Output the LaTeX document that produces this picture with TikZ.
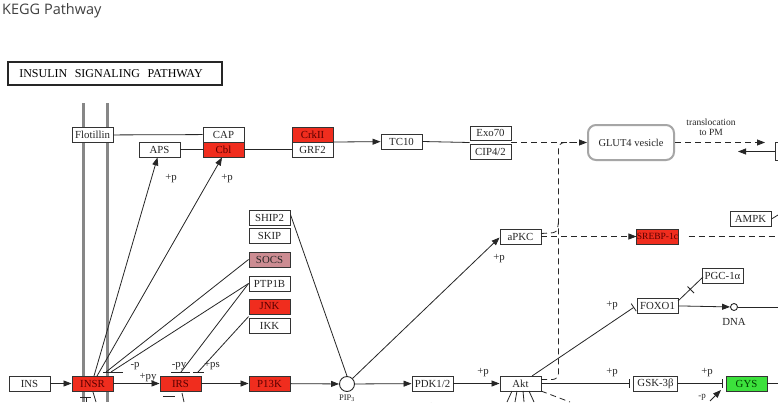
\documentclass[tikz,border=0pt]{standalone}
\usepackage{fontspec}
\setmainfont{Liberation Serif}
\newfontfamily\headfont{Open Sans}
\usetikzlibrary{arrows.meta}
\definecolor{keggred}{RGB}{240,45,30}
\definecolor{keggrose}{RGB}{204,140,146}
\definecolor{kegggreen}{RGB}{60,225,60}
\definecolor{membrane}{RGB}{135,135,135}
\pgfdeclarelayer{bg}
\pgfsetlayers{bg,main}
\begin{document}
\begin{tikzpicture}[x=1pt,y=-1pt,
  gene/.style={draw=black!80, line width=0.9pt, fill=white, minimum width=41pt, minimum height=15pt, inner sep=0pt, font=\fontsize{10.8}{11}\selectfont, text=black!85},
  redgene/.style={gene, fill=keggred, text=red!35!black},
  link/.style={line width=0.8pt, draw=black!85},
  act/.style={link, -{Triangle[length=8pt,width=6pt]}},
  inh/.style={link, -{Bar[width=9pt]}, shorten >=3pt},
  dlink/.style={link, dash pattern=on 6pt off 4pt},
  dact/.style={dlink, -{Triangle[length=8pt,width=6pt]}},
  lbl/.style={font=\fontsize{10.8}{11}\selectfont, inner sep=0pt, text=black!85},
  memb/.style={line width=3pt, draw=membrane}
]
\useasboundingbox[fill=white] (0,0) rectangle (778,402);

% header
\node[anchor=base west, font=\headfont\fontsize{14.5}{15}\selectfont, text=black!75, inner sep=0pt] (head) at (2,14) {KEGG Pathway};
\node[draw=black!85, line width=1.4pt, minimum width=214pt, minimum height=23pt, inner sep=0pt, font=\fontsize{12}{13}\selectfont] (title) at (115,73.5) {INSULIN\hspace{7.5pt}SIGNALING\hspace{7.5pt}PATHWAY\hspace*{8pt}};

% membrane
\draw[memb] (83,103) -- (83,402);
\draw[memb] (107,103) -- (107,402);

% nodes
\node[gene] (flot) at (92.5,135) {Flotillin};
\node[gene] (cap) at (223.5,134.5) {CAP};
\node[redgene] (cbl) at (223.5,149.5) {Cbl};
\node[gene] (aps) at (159.5,149.5) {APS};
\node[redgene] (crk) at (312.5,134.5) {CrkII};
\node[gene] (grf) at (312.5,149.5) {GRF2};
\node[gene] (tc) at (401.5,141.5) {TC10};
\node[gene, minimum height=14pt] (exo) at (490.5,133) {Exo70};
\node[gene] (cip) at (490.5,151.5) {CIP4/2};
\node[draw=black!35, line width=2pt, rounded corners=8pt, minimum width=86pt, minimum height=35pt, inner sep=0pt, font=\fontsize{10.5}{11}\selectfont, text=black!85] (glut) at (631,142.5) {GLUT4 vesicle};
\node[gene, minimum width=18pt, minimum height=18pt] (rbox) at (784,151) {};
\node[gene] (apkc) at (520.5,236.5) {aPKC};
\node[redgene, font=\fontsize{9.5}{10}\selectfont] (srebp) at (657.5,236.5) {SREBP-1c};
\node[gene] (ampk) at (750.5,219) {AMPK};
\node[gene] (ship) at (269.5,217.5) {SHIP2};
\node[gene] (skip) at (269.5,235.5) {SKIP};
\node[gene, fill=keggrose] (socs) at (269.5,259.5) {SOCS};
\node[gene] (ptp) at (269.5,283.5) {PTP1B};
\node[redgene] (jnk) at (269.5,306.5) {JNK};
\node[gene] (ikk) at (269.5,325.5) {IKK};
\node[gene] (pgc) at (722.5,275.5) {PGC-1α};
\node[gene] (foxo) at (657.5,305.5) {FOXO1};
\node[draw=black!85, line width=0.9pt, circle, minimum size=7pt, inner sep=0pt, fill=white] (dna) at (734,307) {};
\node[lbl] (dnal) at (734,322) {DNA};
\node[gene] (ins) at (29.5,383.5) {INS};
\node[redgene] (insr) at (92.5,383.5) {INSR};
\node[redgene] (irs) at (180.5,383.5) {IRS};
\node[redgene] (pik) at (269.5,383.5) {P13K};
\node[draw=black!85, line width=0.9pt, circle, minimum size=15pt, inner sep=0pt, fill=white] (pip) at (347,384) {};
\node[anchor=north, inner sep=0pt, font=\fontsize{8.5}{9}\selectfont, text=black!85] (pipl) at (347,395) {PIP\textsubscript{3}};
\node[gene] (pdk) at (432.5,383.5) {PDK1/2};
\node[gene] (akt) at (520.5,383.5) {Akt};
\node[gene, minimum width=44pt] (gsk) at (655.5,383.5) {GSK-3β};
\node[gene, fill=kegggreen, text=green!25!black] (gys) at (746.5,383.5) {GYS};

% free ends
\coordinate (exoj) at (511,142.5);
\coordinate (crkj) at (333.4,142);
\coordinate (tlend) at (765,142.5);
\coordinate (rarr) at (738,151.5);
\coordinate (vtop) at (575,142.5);
\coordinate (vbot) at (541,379.5);
\coordinate (vc1) at (558.5,379.5);
\coordinate (vc2) at (558.5,142.5);
\coordinate (ap1) at (541,233.5);
\coordinate (ap2) at (557,232.5);
\coordinate (ap3) at (558.5,222);
\coordinate (srebpr) at (778,236.5);
\coordinate (ampkr) at (778,215);
\coordinate (gysr) at (778,383.5);
\coordinate (dnar) at (778,307);
\coordinate (pdkb) at (431,402);
\coordinate (insrA) at (94,376);
\coordinate (insrB) at (97,376);
\coordinate (sA) at (106,372);
\coordinate (sB) at (111,372);
\coordinate (sC) at (181,372);
\coordinate (sD) at (198,372);
\coordinate (aktn) at (532,376);
\coordinate (foxoE) at (678,301);
\coordinate (pgcW) at (703,277);

% background line through PDK1/2
\begin{pgfonlayer}{bg}
\draw[act] (pdkb) -- ([yshift=-3pt]apkc.west);
\end{pgfonlayer}

% top row
\draw[link] (flot) -- (cap);
\draw[link] (aps) -- (cbl);
\draw[link] (cbl.east) -- (grf.west);
\draw[act] (crkj) -- (tc);
\draw[link] (tc.east) -- (exoj -| exo.west);
\draw[dact] (exoj) -- (glut.west);
\draw[dact] (glut.east) -- (tlend);
\node[lbl, align=center, font=\fontsize{9.5}{9.5}\selectfont] (tl) at (711,127) {translocation\\to PM};
\draw[act] (rbox.west |- rarr) -- (rarr);
\draw[dlink, rounded corners=6pt] (vbot) -- (vc1) -- (vc2) -- (vtop);
\draw[dlink, rounded corners=4pt] (ap1) -- (ap2) -- (ap3);

% aPKC row
\draw[dact] (apkc.east) -- (srebp.west);
\draw[dlink, shorten <=10pt] (srebp.east) -- (srebpr);
\draw[link] (ampk.east) -- (ampkr);

% INSR to APS / Cbl
\draw[act] (insrA) -- ([xshift=-2pt]aps.south);
\node[lbl] (p1) at (171,179) {+p};
\draw[act] (insrB) -- ([xshift=-1.5pt]cbl.south);
\node[lbl] (p2) at (227,179) {+p};

% inhibitors on INSR / IRS
\draw[link] (socs.west) -- (sA);
\draw[link] (ptp.west) -- (sB);
\draw[link] (ptp.west) -- (sC);
\draw[link] ([yshift=1pt]ikk.north west) -- (sD);
\draw[link] (103,372.5) -- (123,372.5);
\draw[link] (171,372.5) -- (190,372.5);
\draw[link] (193,372.5) -- (204,372.5);
\node[lbl] (m1) at (135,366) {-p};
\node[lbl] (m2) at (148,378) {+py};
\node[lbl] (m3) at (179,366) {-py};
\node[lbl] (m4) at (212,366) {+ps};

% main chain
\draw[act] (ins) -- (insr);
\draw[act] (insr) -- (irs);
\draw[act] (irs) -- (pik);
\draw[act] (pik) -- (pip);
\draw[act] (pip) -- (pdk);
\draw[act] (pdk) -- (akt);
\node[lbl] (p3) at (483,373) {+p};
\draw[link] ([yshift=3pt]ship.east) -- (pip.north);
\draw[act] (pip.north east) -- ([yshift=-1pt]apkc.west);
\node[lbl] (p4) at (499,259) {+p};

% Akt targets
\draw[inh] (aktn) -- (foxo.west);
\node[lbl] (p5) at (612,306) {+p};
\draw[inh] (akt) -- (gsk);
\node[lbl] (p6) at (612,373) {+p};
\draw[inh] (gsk) -- (gys);
\node[lbl] (p7) at (707,373) {+p};
\draw[link] (gys) -- (gysr);
\draw[act] (foxo) -- (dna);
\draw[link] (dna) -- (dnar);
\draw[link] (foxoE) -- (pgcW);
\draw[link] (687.5,286.5) -- (694,293);

% bottom fragments
\draw[link] (512,391) -- (507,402);
\draw[link] (517,391) -- (515,402);
\draw[link] (523,391) -- (524,402);
\draw[link] (529,391) -- (534,402);
\draw[dlink] (541,391) -- (570,402);
\draw[act] (710,401) -- (721,390);
\node[lbl, font=\fontsize{9}{9}\selectfont] (m5) at (702,397) {-p};
\draw[link] (80,397.5) -- (91,397.5);
\draw[link] (86,397) -- (86,402);
\draw[link] (93,392) -- (96,402);
\draw[link] (163,396.5) -- (175,396.5);
\draw[link] (182,393) -- (184,402);
\end{tikzpicture}
\end{document}
